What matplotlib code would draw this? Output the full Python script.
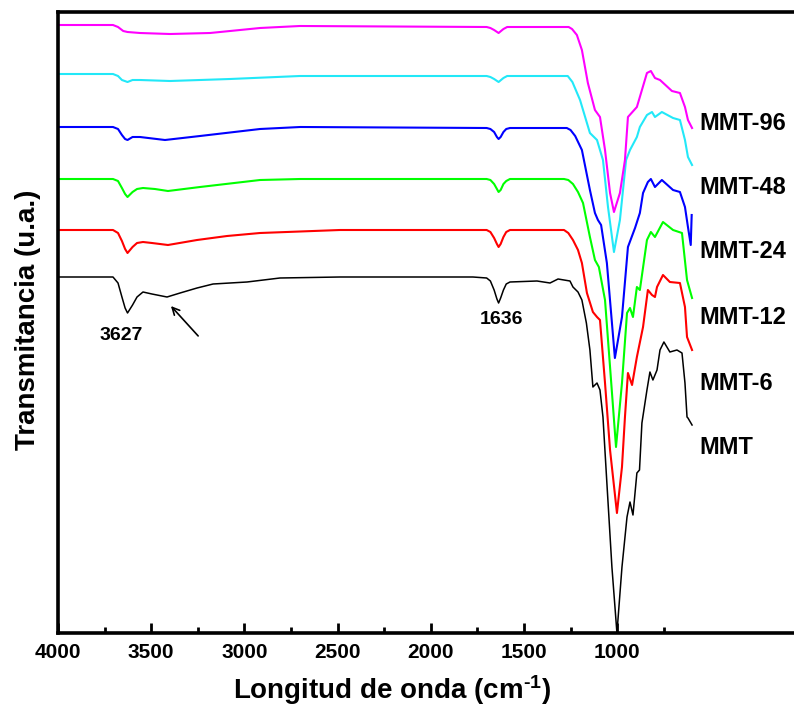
import matplotlib
matplotlib.use("Agg")
import matplotlib.pyplot as plt
from matplotlib.ticker import FixedLocator

plt.rcParams['font.family'] = ['Liberation Sans', 'DejaVu Sans']
plt.rcParams['font.weight'] = 'bold'
plt.rcParams['mathtext.fontset'] = 'custom'
plt.rcParams['mathtext.rm'] = 'Liberation Sans:bold'
plt.rcParams['mathtext.bf'] = 'Liberation Sans:bold'
plt.rcParams['mathtext.default'] = 'bf'

# FTIR spectra, offset traces (arbitrary units)
wn_mmt = [4000, 3705, 3678, 3657, 3640, 3627, 3600, 3576, 3544, 3496, 3415, 3345, 3254,
          3168, 2986, 2809, 2487, 1774, 1700, 1680, 1660, 1645, 1636, 1625, 1610, 1595,
          1575, 1430, 1360, 1317, 1253, 1237, 1210, 1189, 1165, 1146, 1130, 1108, 1092,
          1076, 1055, 1028, 1001, 974, 947, 931, 915, 894, 880, 867, 840, 824, 808, 786,
          770, 749, 717, 679, 652, 636, 625, 620, 598]
t_mmt = [356, 356, 350, 336, 325, 320, 328, 336, 341, 339, 336, 340, 345,
         349, 351, 355, 356, 356, 355, 352, 343, 334, 330, 335, 343, 349,
         351, 352, 350, 354, 352, 346, 341, 333, 310, 283, 246, 250, 243,
         216, 150, 66, 0, 66, 116, 131, 118, 160, 163, 210, 243, 261, 253, 263,
         283, 291, 281, 283, 280, 250, 216, 215, 208]

wn_mmt6 = [4000, 3705, 3678, 3657, 3640, 3627, 3600, 3576, 3544, 3496, 3410, 3254,
           3093, 2916, 2487, 1700, 1680, 1660, 1645, 1636, 1625, 1610, 1595, 1575,
           1285, 1262, 1237, 1210, 1189, 1162, 1130, 1108, 1092, 1065, 1038, 1001,
           974, 958, 942, 920, 894, 861, 835, 813, 797, 786, 754, 717, 663, 636,
           625, 598]
t_mmt6 = [403, 403, 400, 392, 384, 380, 386, 390, 391, 390, 388, 393,
          397, 400, 403, 403, 401, 395, 389, 386, 389, 396, 401, 403,
          403, 400, 393, 383, 370, 340, 321, 316, 313, 250, 183, 120,
          166, 216, 260, 248, 276, 306, 343, 338, 336, 346, 358, 351, 350, 326,
          296, 283]

wn_mmt12 = [4000, 3705, 3678, 3657, 3640, 3627, 3600, 3576, 3544, 3480, 3410, 3238,
            2916, 2700, 1700, 1680, 1660, 1645, 1636, 1625, 1610, 1595, 1575, 1285,
            1262, 1237, 1210, 1183, 1146, 1119, 1098, 1065, 1038, 1006, 974, 947,
            931, 915, 894, 878, 840, 819, 797, 754, 700, 652, 625, 598]
t_mmt12 = [454, 454, 452, 445, 439, 436, 441, 444, 445, 444, 442, 446,
           453, 454, 454, 453, 449, 444, 441, 443, 449, 452, 454, 454,
           453, 449, 441, 430, 396, 373, 366, 333, 266, 186, 250, 320,
           325, 316, 346, 343, 393, 401, 396, 411, 403, 400, 353, 335]

wn_mmt24 = [4000, 3705, 3678, 3657, 3640, 3627, 3600, 3560, 3426, 3238, 2916, 2700,
            1700, 1680, 1660, 1645, 1636, 1625, 1610, 1595, 1575, 1270, 1250, 1225,
            1189, 1146, 1119, 1103, 1086, 1055, 1012, 974, 942, 904, 878, 861, 835,
            819, 797, 760, 700, 663, 636, 620, 605, 600]
t_mmt24 = [506, 506, 504, 498, 494, 493, 496, 496, 493, 497, 504, 506,
           505, 504, 501, 496, 494, 496, 501, 504, 505, 505, 503, 497,
           483, 443, 420, 413, 408, 370, 275, 316, 386, 405, 420, 440, 451,
           454, 446, 453, 443, 441, 426, 406, 388, 418]

wn_mmt48 = [4000, 3705, 3678, 3657, 3627, 3600, 3560, 3399, 3077, 2702, 1700, 1680,
            1660, 1636, 1610, 1590, 1575, 1265, 1240, 1199, 1146, 1108, 1076, 1049,
            1017, 985, 952, 931, 894, 878, 840, 813, 797, 760, 700, 663, 636, 620, 598]
t_mmt48 = [559, 559, 557, 553, 551, 553, 553, 552, 554, 557, 557, 556,
           554, 551, 555, 557, 557, 557, 551, 533, 500, 493, 473, 426,
           381, 413, 473, 483, 496, 506, 518, 521, 516, 521, 515, 513, 493, 476, 468]

wn_mmt96 = [4000, 3705, 3678, 3650, 3627, 3560, 3399, 3184, 2916, 2702, 1700, 1680,
            1660, 1636, 1610, 1590, 1575, 1260, 1242, 1216, 1189, 1157, 1119, 1092,
            1065, 1038, 1017, 985, 958, 942, 894, 867, 840, 819, 797, 770, 706, 663,
            636, 620, 598]
t_mmt96 = [608, 608, 606, 602, 601, 600, 599, 600, 605, 607, 606, 605,
           603, 600, 604, 606, 606, 606, 604, 598, 583, 550, 523, 516,
           483, 440, 421, 440, 473, 516, 526, 543, 560, 562, 555, 553, 542, 540,
           526, 513, 505]

series = [
    (wn_mmt, t_mmt, 'black', 1.1, 'MMT', 186),
    (wn_mmt6, t_mmt6, '#ff0000', 1.5, 'MMT-6', 250),
    (wn_mmt12, t_mmt12, '#00ff00', 1.5, 'MMT-12', 316),
    (wn_mmt24, t_mmt24, '#0000ff', 1.5, 'MMT-24', 381),
    (wn_mmt48, t_mmt48, '#22e8f8', 1.5, 'MMT-48', 445),
    (wn_mmt96, t_mmt96, '#ff00ff', 1.5, 'MMT-96', 510),
]

fig = plt.figure(figsize=(7.94, 7.09), dpi=100)
ax = fig.add_axes([58 / 794, 76 / 709, 1 - 58 / 794, 621 / 709])

for wn, t, color, lw, name, ylab in series:
    ax.plot(wn, t, color=color, lw=lw)
    ax.text(560, ylab, name, fontsize=17, fontweight='bold', va='center', ha='left')

ax.set_xlim(4000, 51)
ax.set_ylim(0, 621)

ax.xaxis.set_major_locator(FixedLocator([4000, 3500, 3000, 2500, 2000, 1500, 1000]))
ax.xaxis.set_minor_locator(FixedLocator([3750, 3250, 2750, 2250, 1750, 1250, 750]))
ax.tick_params(axis='x', which='major', direction='in', length=7, width=2,
               labelsize=15, pad=7)
ax.tick_params(axis='x', which='minor', direction='in', length=4, width=2)
ax.set_yticks([])
for lab in ax.get_xticklabels():
    lab.set_fontweight('bold')

for side in ['left', 'bottom', 'top']:
    ax.spines[side].set_linewidth(2.6)
ax.spines['right'].set_visible(False)

ax.text(3662, 297, '3627', fontsize=14, fontweight='bold', ha='center', va='center')
ax.text(1618, 313, '1636', fontsize=14, fontweight='bold', ha='center', va='center')
ax.annotate('', xy=(3404, 329), xytext=(3238, 295),
            arrowprops=dict(arrowstyle='->', color='black', lw=1.2, mutation_scale=13))

fig.text(392 / 794, 1 - 690 / 709, r'Longitud de onda (cm$^{\text{-}1}$)', fontsize=20,
         fontweight='bold', ha='center', va='center')
fig.text(28 / 794, 1 - 320 / 709, 'Transmitancia (u.a.)', fontsize=20,
         fontweight='bold', ha='center', va='center', rotation=90)

fig.savefig('out.png', dpi=100)
